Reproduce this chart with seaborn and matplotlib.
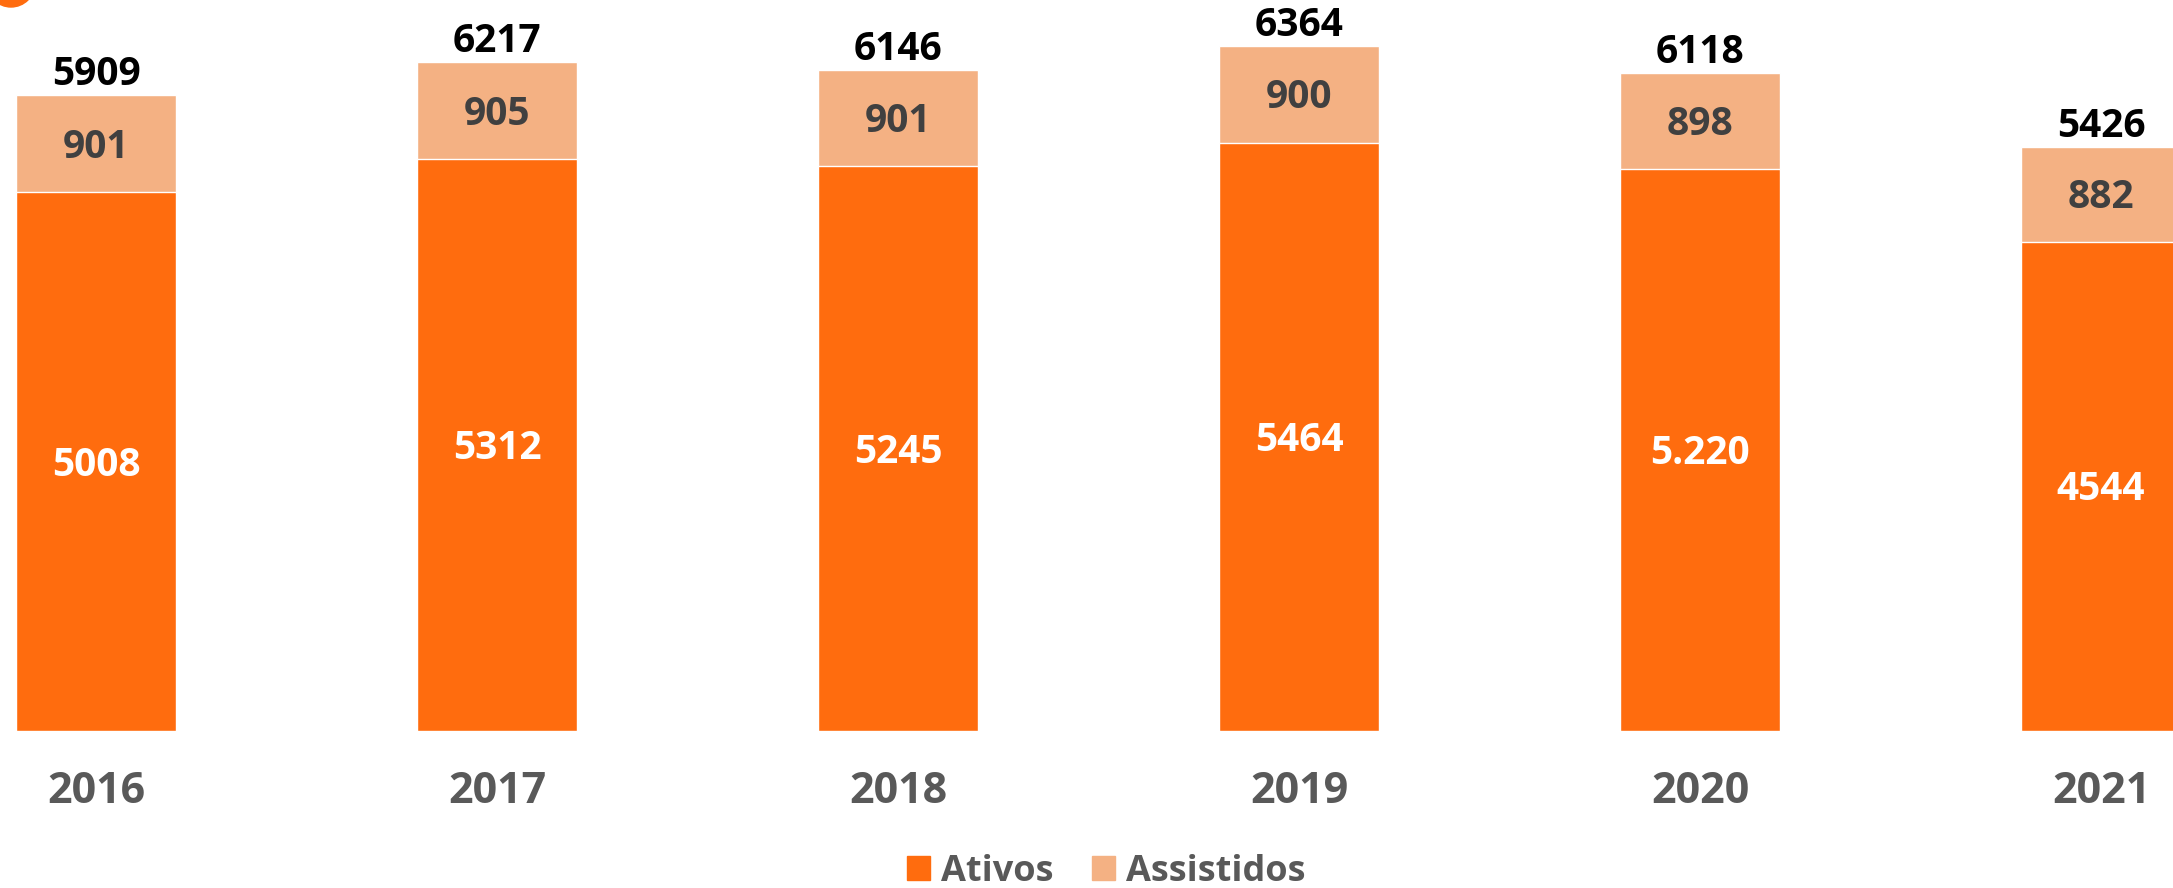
import matplotlib
matplotlib.use('Agg')
import matplotlib.pyplot as plt
import seaborn as sns
import pandas as pd
from matplotlib.patches import Patch, Circle

# chart data
years = ['2016', '2017', '2018', '2019', '2020', '2021']
ativos = [5008, 5312, 5245, 5464, 5220, 4544]
assistidos = [901, 905, 901, 900, 898, 882]
ativos_labels = ['5008', '5312', '5245', '5464', '5.220', '4544']

ORANGE = '#FF6C0E'
LIGHT = '#F4B183'

sns.set_theme(style='white')
plt.rcParams['font.family'] = ['Open Sans', 'DejaVu Sans']
plt.rcParams['font.weight'] = 'bold'

df = pd.DataFrame({'Ano': years, 'Ativos': ativos, 'Assistidos': assistidos})
df['Total'] = df['Ativos'] + df['Assistidos']

fig = plt.figure(figsize=(21.73, 8.88), dpi=100)
ax = fig.add_axes([0, 157 / 888, 1, 731 / 888])

# stacked bars: total (light) underneath, ativos on top of it
sns.barplot(data=df, x='Ano', y='Total', color=LIGHT, saturation=1, width=0.4, ax=ax)
sns.barplot(data=df, x='Ano', y='Ativos', color=ORANGE, saturation=1, width=0.4, ax=ax)

px = 731 / 6792  # pixels per unit
for i, row in df.iterrows():
    ax.text(i, row['Total'] + 10 / px, f"{row['Total']}", ha='center', va='baseline',
            fontsize=28, fontweight='bold', color='black')
    mid_a = row['Ativos'] + row['Assistidos'] / 2
    ax.text(i, mid_a - 14 / px, f"{row['Assistidos']}", ha='center', va='baseline',
            fontsize=28, fontweight='bold', color='#404040')
    ax.text(i, row['Ativos'] / 2 - 14 / px, ativos_labels[i], ha='center', va='baseline',
            fontsize=28, fontweight='bold', color='white')

ax.set_xlim(-96 / 401, 2077 / 401)
ax.set_ylim(0, 6792)
ax.set_xlabel('')
ax.set_ylabel('')
ax.set_yticks([])
ax.tick_params(axis='x', length=0, pad=28, labelsize=31, labelcolor='#595959')
for lbl in ax.get_xticklabels():
    lbl.set_fontweight('bold')
sns.despine(ax=ax, left=True, bottom=True)

handles = [Patch(color=ORANGE, label='Ativos'), Patch(color=LIGHT, label='Assistidos')]
leg = fig.legend(handles=handles, loc='center', bbox_to_anchor=(0.509, 16 / 888), ncol=2,
                 frameon=False, fontsize=26, handlelength=0.65, handleheight=0.65,
                 handletextpad=0.3, columnspacing=1.05, borderpad=0)
for t in leg.get_texts():
    t.set_color('#595959')
    t.set_fontweight('bold')

# decorative circle in the top-left corner
fig.patches.append(Circle((11, 888 + 17), 24, transform=None, color=ORANGE, figure=fig))

fig.savefig('out.png', dpi=100)
